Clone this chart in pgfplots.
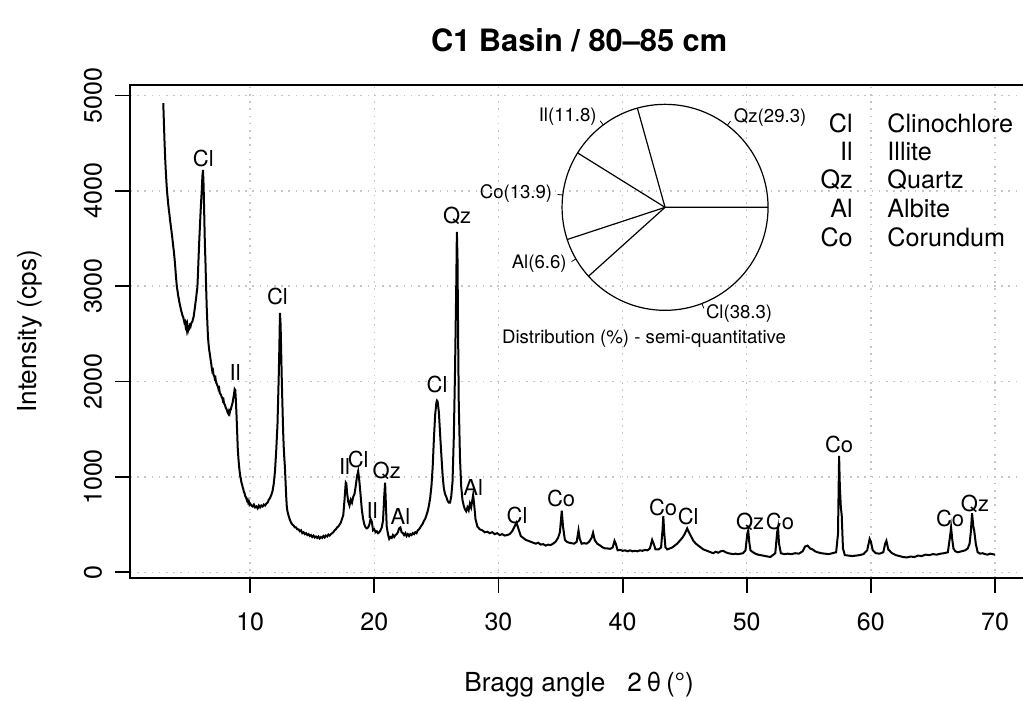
\documentclass[border=0pt]{standalone}
\usepackage{pgfplots}
\pgfplotsset{compat=1.18}
\usepackage{fontspec}
\setmainfont{TeX Gyre Heros}

% XRD pattern (2theta in degrees, intensity in cps)
\pgfplotstableread{
x y
3.00 4920
3.05 4720
3.10 4520
3.15 4350
3.20 4220
3.25 4100
3.30 4000
3.35 3930
3.40 3860
3.45 3800
3.50 3750
3.55 3690
3.60 3640
3.65 3590
3.70 3540
3.75 3480
3.80 3420
3.85 3370
3.90 3300
3.95 3230
4.00 3140
4.05 3060
4.10 2990
4.15 2950
4.20 2900
4.25 2870
4.30 2830
4.35 2800
4.40 2770
4.45 2740
4.50 2720
4.55 2690
4.60 2680
4.65 2650
4.70 2620
4.75 2630
4.80 2580
4.85 2600
4.90 2550
4.95 2590
5.00 2540
5.05 2570
5.10 2560
5.15 2590
5.20 2580
5.25 2610
5.30 2620
5.35 2630
5.40 2660
5.45 2680
5.50 2730
5.55 2780
5.60 2830
5.65 2880
5.70 2940
5.75 2990
5.80 3150
5.85 3320
5.90 3480
5.95 3620
6.00 3760
6.05 3890
6.10 4000
6.15 4150
6.20 4220
6.25 4050
6.30 3750
6.35 3450
6.40 3250
6.45 3000
6.50 2780
6.55 2620
6.60 2470
6.65 2390
6.70 2330
6.75 2290
6.80 2240
6.85 2200
6.90 2150
6.95 2110
7.00 2120
7.05 2070
7.10 2060
7.15 2030
7.20 2040
7.25 1990
7.30 1980
7.35 1960
7.40 1950
7.45 1920
7.50 1930
7.55 1880
7.60 1870
7.65 1860
7.70 1840
7.75 1830
7.80 1800
7.85 1810
7.90 1770
7.95 1760
8.00 1740
8.05 1720
8.10 1710
8.15 1690
8.20 1670
8.25 1660
8.30 1690
8.35 1670
8.40 1700
8.45 1710
8.50 1740
8.55 1760
8.60 1790
8.65 1830
8.70 1870
8.75 1920
8.80 1910
8.85 1800
8.90 1650
8.95 1480
9.00 1300
9.05 1200
9.10 1120
9.15 1060
9.20 1010
9.25 980
9.30 940
9.35 920
9.40 890
9.45 870
9.50 840
9.55 830
9.60 800
9.65 790
9.70 770
9.75 750
9.80 760
9.85 730
9.90 740
9.95 710
10.00 720
10.10 700
10.20 690
10.30 710
10.40 680
10.50 690
10.60 670
10.70 700
10.80 680
10.90 700
11.00 690
11.10 710
11.20 700
11.30 720
11.40 730
11.50 760
11.60 780
11.70 810
11.80 850
11.90 930
12.00 1060
12.10 1280
12.20 1550
12.30 2050
12.35 2350
12.40 2720
12.45 2600
12.50 2300
12.55 2000
12.60 1750
12.65 1500
12.70 1320
12.75 1200
12.80 1100
12.85 950
12.90 800
12.95 690
13.00 640
13.10 590
13.20 550
13.30 520
13.40 500
13.50 490
13.60 470
13.70 470
13.80 450
13.90 450
14.00 430
14.10 440
14.20 410
14.30 420
14.40 400
14.50 410
14.60 390
14.70 400
14.80 380
14.90 390
15.00 370
15.10 385
15.20 365
15.30 375
15.40 360
15.50 375
15.60 355
15.70 370
15.80 360
15.90 380
16.00 365
16.10 385
16.20 375
16.30 395
16.40 385
16.50 400
16.60 410
16.70 420
16.80 440
16.90 450
17.00 470
17.10 480
17.20 500
17.30 520
17.40 560
17.50 600
17.60 760
17.70 940
17.75 930
17.80 840
17.90 740
18.00 700
18.10 760
18.20 730
18.30 790
18.40 820
18.50 900
18.60 1000
18.70 1060
18.80 950
18.90 800
19.00 650
19.10 560
19.20 500
19.30 470
19.40 460
19.50 470
19.60 500
19.70 560
19.80 530
19.90 440
20.00 450
20.10 420
20.20 430
20.30 410
20.40 420
20.50 440
20.60 470
20.70 540
20.80 800
20.87 940
20.95 650
21.00 480
21.10 400
21.20 350
21.30 370
21.40 360
21.50 390
21.60 370
21.70 390
21.80 400
21.90 420
22.00 460
22.10 470
22.20 420
22.30 410
22.40 390
22.50 410
22.60 380
22.70 400
22.80 380
22.90 400
23.00 390
23.10 410
23.20 400
23.30 420
23.40 410
23.50 440
23.60 450
23.70 470
23.80 490
23.90 510
24.00 540
24.10 560
24.20 600
24.30 640
24.40 700
24.50 780
24.60 900
24.70 1100
24.80 1400
24.90 1650
25.00 1780
25.05 1800
25.10 1790
25.20 1680
25.30 1450
25.40 1230
25.50 1020
25.60 880
25.70 820
25.80 790
25.90 750
26.00 730
26.10 730
26.20 800
26.30 950
26.40 1400
26.50 2100
26.60 3000
26.65 3570
26.70 3300
26.75 2500
26.80 1800
26.90 1200
27.00 900
27.10 760
27.20 700
27.30 660
27.40 640
27.50 680
27.60 650
27.70 720
27.80 680
27.90 760
27.96 810
28.05 700
28.15 560
28.30 480
28.50 450
28.70 440
28.90 420
29.10 425
29.30 410
29.50 420
29.70 400
29.90 410
30.10 390
30.30 400
30.50 385
30.70 390
30.90 400
31.10 430
31.30 480
31.45 520
31.60 460
31.80 380
32.00 360
32.20 340
32.40 330
32.60 320
32.80 310
33.00 300
33.20 310
33.40 290
33.60 295
33.80 280
34.00 290
34.20 285
34.40 300
34.60 320
34.80 360
34.95 420
35.10 645
35.20 480
35.35 340
35.50 320
35.70 310
35.90 305
36.10 300
36.30 320
36.45 440
36.55 350
36.70 300
36.90 305
37.10 300
37.30 320
37.50 360
37.62 415
37.75 340
37.95 300
38.20 280
38.40 260
38.60 250
38.80 250
39.00 245
39.20 260
39.35 330
39.45 300
39.60 230
39.80 235
40.00 225
40.20 230
40.40 220
40.60 230
40.80 220
41.00 225
41.20 220
41.40 230
41.60 225
41.80 235
42.00 230
42.20 250
42.38 340
42.50 300
42.65 240
42.90 240
43.10 260
43.22 450
43.28 590
43.35 420
43.45 260
43.60 240
43.80 250
44.00 260
44.20 280
44.40 300
44.60 330
44.80 360
45.00 400
45.20 460
45.30 430
45.50 380
45.70 330
45.90 300
46.10 280
46.30 260
46.50 240
46.70 230
46.90 220
47.10 210
47.30 200
47.50 215
47.70 205
47.90 220
48.10 225
48.30 210
48.50 200
48.70 195
48.90 190
49.10 195
49.30 190
49.50 195
49.70 200
49.90 230
50.05 410
50.12 440
50.20 320
50.30 230
50.50 210
50.70 195
50.90 185
51.10 180
51.30 175
51.50 170
51.70 165
51.90 160
52.10 180
52.30 200
52.45 420
52.52 470
52.60 300
52.75 200
53.00 190
53.30 195
53.60 190
53.90 200
54.20 195
54.50 220
54.70 270
54.90 280
55.10 250
55.30 240
55.50 220
55.70 210
56.00 200
56.30 195
56.60 190
56.90 200
57.20 210
57.35 400
57.44 1220
57.50 900
57.58 680
57.65 600
57.75 250
57.90 180
58.20 175
58.50 170
58.80 175
59.10 180
59.40 190
59.70 230
59.90 350
60.00 320
60.15 230
60.40 200
60.70 195
61.00 210
61.15 300
61.25 330
61.40 240
61.70 200
62.00 180
62.30 170
62.60 160
62.90 155
63.20 165
63.50 160
63.80 175
64.10 170
64.40 185
64.70 180
65.00 190
65.30 185
65.60 195
65.90 200
66.20 210
66.40 400
66.46 470
66.55 350
66.65 250
66.80 220
67.00 210
67.30 220
67.60 230
67.80 250
67.95 300
68.05 420
68.15 620
68.25 480
68.32 440
68.45 300
68.60 210
68.80 195
69.00 200
69.20 190
69.40 185
69.60 195
69.80 190
70.00 185
}\xrd

\begin{document}
\begin{tikzpicture}
\begin{axis}[
  name=main,
  scale only axis,
  width=449.15pt, height=246.5pt,
  xmin=0.32, xmax=72.68, ymin=-60, ymax=5110,
  xtick={10,20,...,70}, ytick={0,1000,...,5000},
  tick pos=left, tick align=outside,
  major tick length=7.5pt,
  tick style={black, line width=0.9pt},
  axis line style={line width=0.9pt},
  grid=major,
  major grid style={gray!45, line width=0.7pt, dash pattern=on 0.8pt off 2.8pt},
  /pgf/number format/assume math mode=true,
  /pgf/number format/1000 sep={},
  tick label style={font=\fontsize{12.5}{15}\selectfont},
  xticklabel style={yshift=-6.5pt},
  yticklabel style={xshift=-3pt, rotate=90, anchor=south},
  clip=false,
]
\addplot[black, line width=1pt] table {\xrd};

% peak labels
\begin{scope}[every node/.style={font=\fontsize{11}{13}\selectfont, inner sep=0pt}]
\node at (axis cs:6.23,4342) {Cl};
\node at (axis cs:8.79,2095) {Il};
\node at (axis cs:12.2,2893) {Cl};
\node at (axis cs:17.6,1108) {Il};
\node at (axis cs:18.7,1181) {Cl};
\node at (axis cs:19.83,646) {Il};
\node at (axis cs:21.0,1066) {Qz};
\node at (axis cs:22.1,583) {Al};
\node at (axis cs:25.06,1969) {Cl};
\node at (axis cs:26.67,3733) {Qz};
\node at (axis cs:27.96,887) {Al};
\node at (axis cs:31.5,593) {Cl};
\node at (axis cs:35.05,772) {Co};
\node at (axis cs:43.26,677) {Co};
\node at (axis cs:45.28,583) {Cl};
\node at (axis cs:50.27,530) {Qz};
\node at (axis cs:52.68,530) {Co};
\node at (axis cs:57.44,1339) {Co};
\node at (axis cs:66.38,562) {Co};
\node at (axis cs:68.39,719) {Qz};
\end{scope}
% mineral key
\begin{scope}[every node/.style={font=\fontsize{12.6}{15}\selectfont, inner sep=0pt}]
\node[anchor=east] at (axis cs:58.57,4709) {Cl};
\node[anchor=east] at (axis cs:58.57,4415) {Il};
\node[anchor=east] at (axis cs:58.57,4121) {Qz};
\node[anchor=east] at (axis cs:58.57,3817) {Al};
\node[anchor=east] at (axis cs:58.57,3512) {Co};
\node[anchor=west] at (axis cs:61.3,4709) {Clinochlore};
\node[anchor=west] at (axis cs:61.3,4415) {Illite};
\node[anchor=west] at (axis cs:61.3,4121) {Quartz};
\node[anchor=west] at (axis cs:61.3,3817) {Albite};
\node[anchor=west] at (axis cs:61.3,3512) {Corundum};
\end{scope}
\node[font=\fontsize{9.3}{11}\selectfont, inner sep=0pt] at (axis cs:41.73,2452) {Distribution (\%) - semi-quantitative};
\coordinate (piec) at (axis cs:43.42,3827);
\end{axis}

% pie of the semi-quantitative distribution: Qz 29.3, Il 11.8, Co 13.9, Al 6.6, Cl 38.3
\begin{axis}[
  at={(piec)}, anchor=center,
  scale only axis, width=103pt, height=103pt,
  xmin=-1, xmax=1, ymin=-1, ymax=1,
  hide axis, clip=false,
]
\draw[line width=0.6pt] (axis cs:0,0) circle[radius=51.5pt];
% slice edges at the cumulative shares (angle in degrees, radius)
\addplot[black, line width=0.6pt, data cs=polar] coordinates {(0,1) (0,0) (105.59,1)};
\addplot[black, line width=0.6pt, data cs=polar] coordinates {(0,0) (148.11,1)};
\addplot[black, line width=0.6pt, data cs=polar] coordinates {(0,0) (198.20,1)};
\addplot[black, line width=0.6pt, data cs=polar] coordinates {(0,0) (221.98,1)};
% label ticks at the middle of each slice
\addplot[black, line width=0.4pt, data cs=polar] coordinates {(52.79,1) (52.79,1.05)};
\addplot[black, line width=0.4pt, data cs=polar] coordinates {(126.85,1) (126.85,1.05)};
\addplot[black, line width=0.4pt, data cs=polar] coordinates {(173.15,1) (173.15,1.05)};
\addplot[black, line width=0.4pt, data cs=polar] coordinates {(210.09,1) (210.09,1.05)};
\addplot[black, line width=0.4pt, data cs=polar] coordinates {(290.99,1) (290.99,1.05)};
\begin{scope}[every node/.style={font=\fontsize{9.3}{11}\selectfont, inner sep=0pt}]
\node[anchor=west] at (axis cs:0.665,0.876) {Qz(29.3)};
\node[anchor=east] at (axis cs:-0.660,0.880) {Il(11.8)};
\node[anchor=east] at (axis cs:-1.092,0.131) {Co(13.9)};
\node[anchor=east] at (axis cs:-0.952,-0.552) {Al(6.6)};
\node[anchor=west] at (axis cs:0.394,-1.027) {Cl(38.3)};
\end{scope}
\end{axis}

\node[font=\bfseries\fontsize{15.4}{18}\selectfont] at ([yshift=22.5pt]main.north) {C1 Basin / 80–85 cm};
\node[font=\fontsize{13.1}{15}\selectfont] at ([yshift=-53.5pt]main.south) {Bragg angle\hspace{11pt}2\,θ\,(°)};
\node[font=\fontsize{13.1}{15}\selectfont, rotate=90] at ([xshift=-50pt]main.west) {Intensity (cps)};

\pgfresetboundingbox
\path[use as bounding box] ([xshift=-65pt,yshift=-61.5pt]main.south west) rectangle ([xshift=-2.65pt,yshift=42.5pt]main.north east);
\end{tikzpicture}
\end{document}
